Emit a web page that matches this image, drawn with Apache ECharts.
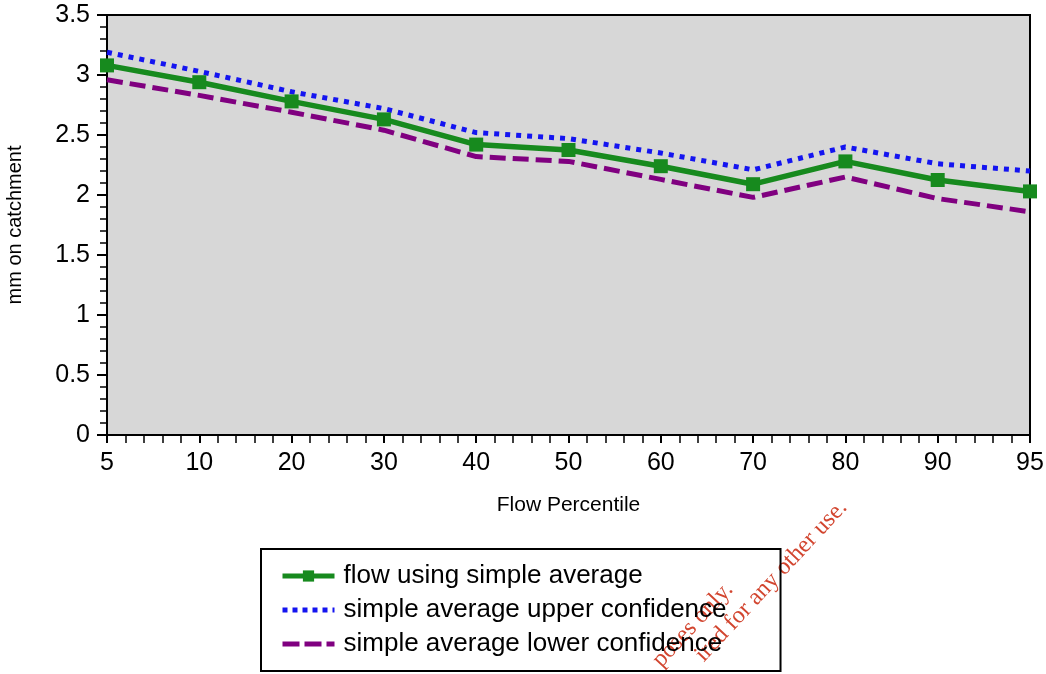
<!DOCTYPE html>
<html>
<head>
<meta charset="utf-8">
<script src="https://cdn.jsdelivr.net/npm/echarts@6/dist/echarts.min.js"></script>
<style>
html,body{margin:0;padding:0;background:#fff;}
#chart{width:1046px;height:674px;}
</style>
</head>
<body>
<div id="chart"></div>
<script>
const categories = ['5','10','20','30','40','50','60','70','80','90','95'];
const averageValues = [3.08, 2.94, 2.78, 2.63, 2.42, 2.375, 2.24, 2.09, 2.28, 2.125, 2.03];
const upperValues   = [3.19, 3.03, 2.86, 2.72, 2.52, 2.47, 2.35, 2.21, 2.40, 2.26, 2.20];
const lowerValues   = [2.96, 2.83, 2.69, 2.54, 2.32, 2.28, 2.13, 1.98, 2.15, 1.97, 1.86];
const seriesNames = ['flow using simple average', 'simple average upper confidence', 'simple average lower confidence'];
const yTitle = 'mm on catchment';
const xTitle = 'Flow Percentile';

const FONT = 'Liberation Sans, Arial, sans-serif';
const GREEN = '#178a1e', BLUE = '#1414f0', PURPLE = '#800080';
const chart = echarts.init(document.getElementById('chart'), null, {renderer: 'canvas'});
chart.setOption({
  backgroundColor: '#ffffff',
  animation: false,
  grid: {
    left: 107, right: 16, top: 15, bottom: 239,
    containLabel: false,
    outerBoundsMode: 'none',
    show: true, backgroundColor: '#d7d7d7', borderColor: '#000', borderWidth: 2
  },
  xAxis: [{
    type: 'category',
    data: categories,
    boundaryGap: false,
    axisLine: {lineStyle: {color: '#000', width: 2}},
    axisTick: {show: true, length: 8, lineStyle: {color: '#000', width: 2}},
    axisLabel: {color: '#000', fontSize: 25, fontFamily: FONT, margin: 16},
    splitLine: {show: false},
    name: xTitle,
    nameLocation: 'middle',
    nameGap: 60,
    nameTextStyle: {color: '#000', fontSize: 21, fontFamily: FONT}
  }, {
    type: 'value',
    position: 'bottom',
    min: 0, max: categories.length - 1, interval: 1,
    axisLine: {show: false},
    axisTick: {show: false},
    axisLabel: {show: false},
    splitLine: {show: false},
    minorTick: {show: true, splitNumber: 5, length: 8, lineStyle: {color: '#000', width: 1.5}},
    minorSplitLine: {show: false}
  }],
  yAxis: {
    type: 'value',
    min: 0, max: 3.5, interval: 0.5,
    axisLine: {show: true, lineStyle: {color: '#000', width: 2}},
    axisTick: {show: true, length: 10, lineStyle: {color: '#000', width: 2}},
    minorTick: {show: true, splitNumber: 5, length: 7, lineStyle: {color: '#000', width: 1.5}},
    axisLabel: {color: '#000', fontSize: 25, fontFamily: FONT, margin: 17},
    splitLine: {show: false},
    name: yTitle,
    nameLocation: 'middle',
    nameRotate: 90,
    nameGap: 82,
    nameTextStyle: {color: '#000', fontSize: 20, fontFamily: FONT}
  },
  legend: {
    orient: 'vertical',
    left: 261, top: 549,
    data: [
      {name: seriesNames[0], lineStyle: {width: 5, color: GREEN}},
      {name: seriesNames[1], itemStyle: {opacity: 0}, lineStyle: {width: 5, color: BLUE, type: [5, 5]}},
      {name: seriesNames[2], itemStyle: {opacity: 0}, lineStyle: {width: 5, color: PURPLE, type: [17, 5]}}
    ],
    borderColor: '#000', borderWidth: 2,
    padding: [14, 54, 14, 19],
    itemWidth: 52, itemHeight: 14, itemGap: 8,
    textStyle: {color: '#000', fontSize: 26, fontFamily: FONT, padding: [0, 0, 0, 4]}
  },
  series: [{
    name: seriesNames[1],
    type: 'line',
    data: upperValues,
    symbol: 'none',
    lineStyle: {color: BLUE, width: 5, type: [5, 6]},
    itemStyle: {color: BLUE}
  }, {
    name: seriesNames[2],
    type: 'line',
    data: lowerValues,
    symbol: 'none',
    lineStyle: {color: PURPLE, width: 5, type: [16, 7]},
    itemStyle: {color: PURPLE}
  }, {
    name: seriesNames[0],
    type: 'line',
    data: averageValues,
    symbol: 'rect',
    symbolSize: 14,
    lineStyle: {color: GREEN, width: 5.5},
    itemStyle: {color: GREEN}
  }],
  graphic: [{
    type: 'text', x: 852, y: 512, rotation: 0.82,
    style: {text: 'ired for any other use.', fill: '#d2452f', font: '24px "Liberation Serif", serif', textAlign: 'right', textVerticalAlign: 'bottom'}
  }, {
    type: 'text', x: 738, y: 594, rotation: 0.82,
    style: {text: 'poses only.', fill: '#d2452f', font: '24px "Liberation Serif", serif', textAlign: 'right', textVerticalAlign: 'bottom'}
  }]
});
</script>
</body>
</html>
